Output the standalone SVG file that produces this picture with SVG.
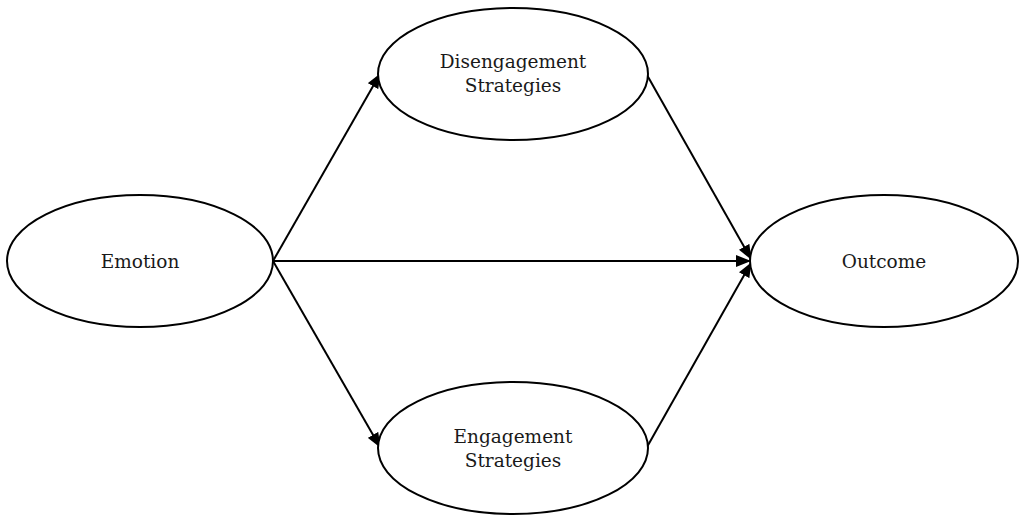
<svg xmlns="http://www.w3.org/2000/svg" width="1024" height="521" viewBox="0 0 1024 521">
<style>
.node{fill:#fff;stroke:#000;stroke-width:2}
.lbl{font-family:"DejaVu Serif","Liberation Serif",serif;font-size:18.5px;fill:#1a1a1a;text-anchor:middle}
.edge{stroke:#000;stroke-width:2;fill:none;marker-end:url(#arr)}
</style>
<defs>
<marker id="arr" markerUnits="userSpaceOnUse" markerWidth="16" markerHeight="12" refX="14" refY="6" orient="auto">
<path d="M0,0 L15,6 L0,12 Z" fill="#000"/>
</marker>
</defs>
<rect width="1024" height="521" fill="#fff"/>
<g id="edges">
<line class="edge" x1="273" y1="261" x2="380" y2="74"/>
<line class="edge" x1="273" y1="261" x2="750" y2="261"/>
<line class="edge" x1="273" y1="261" x2="380" y2="447"/>
<line class="edge" x1="647" y1="75" x2="751" y2="259"/>
<line class="edge" x1="647" y1="447" x2="751" y2="263"/>
</g>
<g id="emotion">
<ellipse class="node" cx="140" cy="261" rx="133" ry="66"/>
<text class="lbl" x="140" y="268">Emotion</text>
</g>
<g id="disengagement">
<ellipse class="node" cx="513" cy="74" rx="135" ry="66"/>
<text class="lbl" x="513" y="68">Disengagement</text>
<text class="lbl" x="513" y="92">Strategies</text>
</g>
<g id="engagement">
<ellipse class="node" cx="513" cy="448" rx="135" ry="66"/>
<text class="lbl" x="513" y="443">Engagement</text>
<text class="lbl" x="513" y="467">Strategies</text>
</g>
<g id="outcome">
<ellipse class="node" cx="884" cy="261" rx="134" ry="66"/>
<text class="lbl" x="884" y="268">Outcome</text>
</g>
</svg>
